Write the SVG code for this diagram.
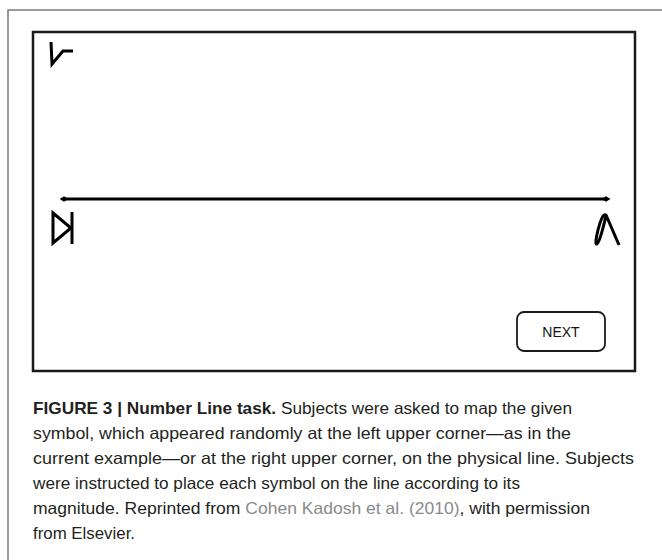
<svg xmlns="http://www.w3.org/2000/svg" width="662" height="560" viewBox="0 0 662 560">
<defs>
<style>
.frame{fill:none;stroke:#7a7a7a;stroke-width:1.5}
.box{fill:#fff;stroke:#1a1a1a;stroke-width:2.5}
.sym{fill:none;stroke:#000;stroke-width:3;stroke-linejoin:miter;stroke-linecap:butt}
.cap{font-family:"Liberation Sans",Arial,sans-serif;font-size:16.5px;fill:#231f20}
.b{font-weight:bold}
.ref{fill:#8a8a8a}
.btn{fill:#fff;stroke:#1a1a1a;stroke-width:1.8}
.btntxt{font-family:"Liberation Sans",Arial,sans-serif;font-size:14px;fill:#111;text-anchor:middle}
</style>
<marker id="dia" viewBox="-5 -5 10 10" markerWidth="9" markerHeight="9" markerUnits="userSpaceOnUse" orient="auto"><path d="M-5,0 L0,-3 L5,0 L0,3 Z" fill="#000"/></marker>
</defs>
<rect width="662" height="560" fill="#fff"/>
<path class="frame" d="M8,560 V10 H662"/>
<g id="screen">
<rect class="box" x="33" y="32" width="602" height="339"/>
</g>
<g id="symbol-top">
<path class="sym" d="M51,42 L52,64 L63,51 L73,51"/>
</g>
<g id="connectors">
<line x1="64" y1="199" x2="606" y2="199" stroke="#000" stroke-width="3.2" marker-start="url(#dia)" marker-end="url(#dia)"/>
</g>
<g id="symbol-left">
<path class="sym" d="M53,213 L71,228 L53,243 Z"/>
<line class="sym" x1="72" y1="212" x2="72" y2="244"/>
</g>
<g id="symbol-right">
<path class="sym" d="M619,245 L606,215 C603,213 600,222 598,230 C596,238 595,245 597,244 C600,242 603,228 606,216"/>
</g>
<g id="next">
<rect class="btn" x="517" y="312" width="88" height="39" rx="7"/>
<text class="btntxt" x="561" y="337">NEXT</text>
</g>
<g id="caption">
<text class="cap" x="33" y="414" textLength="539" lengthAdjust="spacingAndGlyphs"><tspan class="b">FIGURE 3 | Number Line task.</tspan> Subjects were asked to map the given</text>
<text class="cap" x="33" y="439" textLength="538" lengthAdjust="spacingAndGlyphs">symbol, which appeared randomly at the left upper corner—as in the</text>
<text class="cap" x="33" y="464" textLength="601" lengthAdjust="spacingAndGlyphs">current example—or at the right upper corner, on the physical line. Subjects</text>
<text class="cap" x="33" y="489" textLength="487" lengthAdjust="spacingAndGlyphs">were instructed to place each symbol on the line according to its</text>
<text class="cap" x="33" y="514" textLength="557" lengthAdjust="spacingAndGlyphs">magnitude. Reprinted from <tspan class="ref">Cohen Kadosh et al. (2010)</tspan>, with permission</text>
<text class="cap" x="33" y="539" textLength="102" lengthAdjust="spacingAndGlyphs">from Elsevier.</text>
</g>
</svg>
